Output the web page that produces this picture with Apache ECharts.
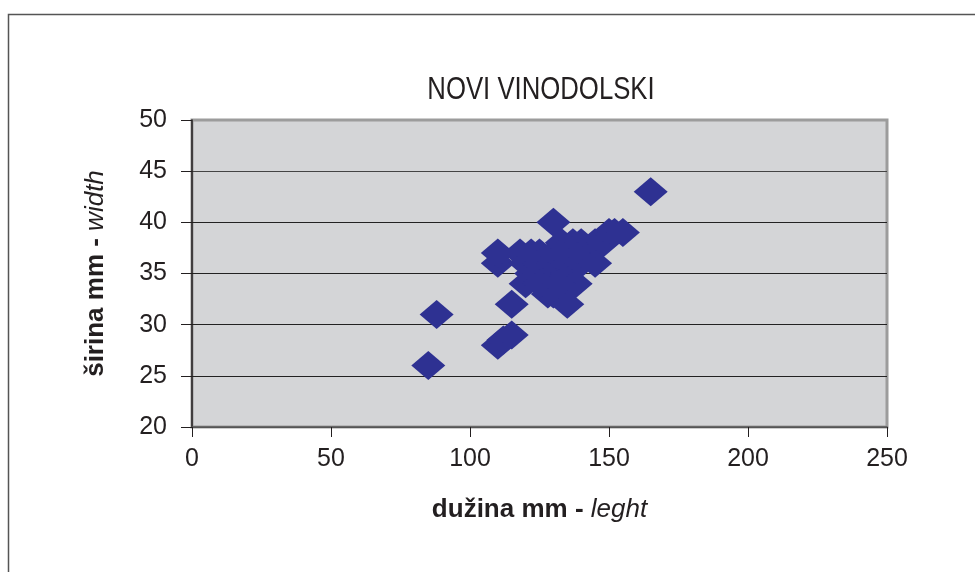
<!DOCTYPE html>
<html>
<head>
<meta charset="utf-8">
<script src="https://cdn.jsdelivr.net/npm/echarts@6/dist/echarts.min.js"></script>
<style>
html,body{margin:0;padding:0;background:#fff;}
#c{width:975px;height:572px;}
</style>
</head>
<body>
<div id="c"></div>
<script>
var titleText = 'NOVI VINODOLSKI';
var lengths = [85, 88, 110, 112, 115, 115, 110, 110, 118, 120, 122, 125, 120, 122, 125, 125, 128, 130, 130, 130, 130, 130, 133, 135, 135, 135, 135, 137, 138, 140, 140, 140, 145, 145, 148, 150, 152, 155, 165, 125, 132];
var widths  = [26, 31, 28, 28.5, 29, 32, 36, 37, 37, 36, 37, 37, 34, 35, 35, 36, 33, 33, 35, 36, 37, 40, 38, 32, 35, 36, 37, 38, 34, 38, 36, 37, 36, 38, 38, 39, 39, 39, 43, 34, 34];
var xTicks = [0, 50, 100, 150, 200, 250];
var yTicks = [20, 25, 30, 35, 40, 45, 50];

var data = lengths.map(function (v, i) { return [v, widths[i]]; });
var chart = echarts.init(document.getElementById('c'), null, {renderer: 'canvas'});
var font = '"Liberation Sans", Arial, sans-serif';
chart.setOption({
  animation: false,
  backgroundColor: '#ffffff',
  graphic: [
    {type: 'rect', left: 6, top: 12, shape: {width: 1000, height: 620},
     style: {fill: 'none', stroke: '#555555', lineWidth: 1.5}, z: -10},
    {type: 'text', x: 541, y: 90, scaleX: 0.83, z: 10,
     style: {text: titleText, fontFamily: font,
             fontSize: 31, fill: '#231f20', textAlign: 'center', textVerticalAlign: 'middle'}}
  ],
  grid: {left: 192, right: 88, top: 120, bottom: 145, show: true,
         backgroundColor: '#d4d5d7', borderColor: '#9c9c9c', borderWidth: 3},
  xAxis: {
    type: 'value', min: xTicks[0], max: xTicks[xTicks.length - 1], interval: 50,
    name: '{b|dužina mm - }{i|leght}', nameLocation: 'middle', nameGap: 70,
    nameTextStyle: {rich: {
      b: {fontFamily: font, fontWeight: 'bold', fontSize: 26, color: '#231f20'},
      i: {fontFamily: font, fontStyle: 'italic', fontSize: 26, color: '#231f20'}}},
    axisLine: {show: true, onZero: false, lineStyle: {color: '#555', width: 1.5}},
    axisTick: {show: true, length: 10, lineStyle: {color: '#231f20', width: 1}},
    axisLabel: {fontFamily: font, fontSize: 25, color: '#231f20', margin: 20},
    splitLine: {show: false}
  },
  yAxis: {
    type: 'value', min: yTicks[0], max: yTicks[yTicks.length - 1], interval: 5,
    name: '{b|širina mm - }{i|width}', nameLocation: 'middle', nameGap: 83, nameRotate: 90,
    nameTextStyle: {rich: {
      b: {fontFamily: font, fontWeight: 'bold', fontSize: 26, color: '#231f20'},
      i: {fontFamily: font, fontStyle: 'italic', fontSize: 26, color: '#231f20'}}},
    axisLine: {show: true, onZero: false, lineStyle: {color: '#231f20', width: 1.5}},
    axisTick: {show: true, length: 11, lineStyle: {color: '#231f20', width: 1}},
    axisLabel: {fontFamily: font, fontSize: 25, color: '#231f20', margin: 25},
    splitLine: {show: true, lineStyle: {color: ['#555', '#222', '#222', '#222', '#222', '#444', '#9c9c9c'], width: 1.2}}
  },
  series: [{
    type: 'scatter', data: data, symbol: 'diamond', symbolSize: [34, 29],
    itemStyle: {color: '#2e3192', opacity: 1}
  }]
});
</script>
</body>
</html>
